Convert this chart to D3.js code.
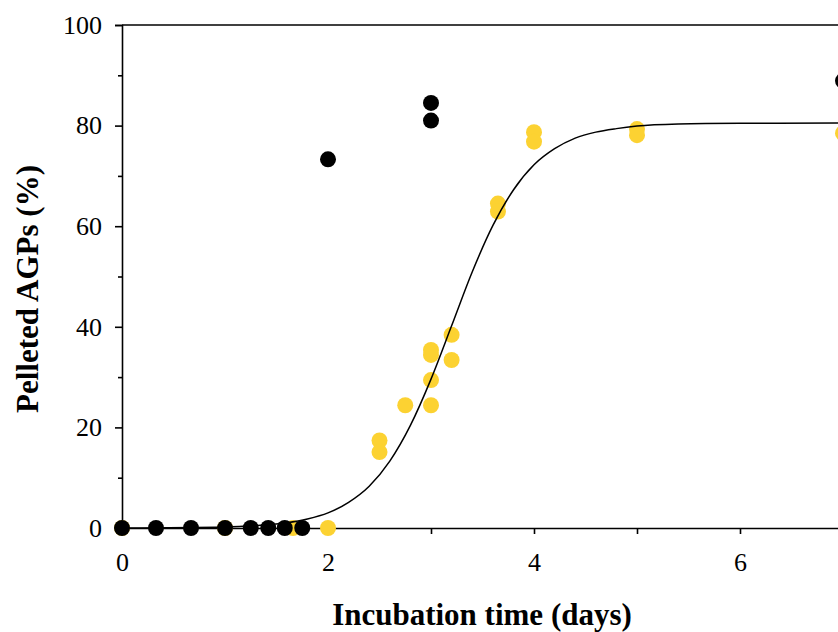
<!DOCTYPE html>
<html>
<head>
<meta charset="utf-8">
<script src="https://cdn.jsdelivr.net/npm/d3@7"></script>
<style>
  html, body { margin: 0; padding: 0; background: #fff; }
  svg { display: block; }
  text { font-family: "Liberation Serif", "Times New Roman", serif; }
</style>
</head>
<body>
<svg id="chart" width="838" height="632"></svg>
<script>
// ---- data ----
const blackX = [0, 0.33, 0.67, 1, 1.25, 1.42, 1.58, 1.75, 2, 3, 3, 7];
const blackY = [0, 0, 0, 0, 0, 0, 0, 0, 73.3, 84.5, 81.0, 88.9];

const yellowX = [0, 1, 1.66, 2, 2.5, 2.5, 2.75, 3, 3, 3, 3, 3.2, 3.2, 3.65, 3.65, 4, 4, 5, 5, 7];
const yellowY = [0, 0, 0, 0, 17.4, 15.1, 24.4, 24.4, 29.4, 35.4, 34.4, 38.4, 33.4, 64.5, 62.9, 78.7, 76.8, 79.3, 78.1, 78.5];

// fitted curve
const curveX = [0, 1.0, 1.3, 1.6, 1.8, 2.0, 2.2, 2.4, 2.6, 2.8, 3.0, 3.2, 3.4, 3.6, 3.8, 4.0, 4.2, 4.4, 4.6, 4.8, 5.0, 5.4, 6.0, 7.0, 8.0];
const curveY = [0, 0.2, 0.5, 1.05, 1.8, 3.0, 5.1, 8.3, 13.3, 20.4, 29.6, 40.2, 50.9, 60.1, 67.2, 72.2, 75.4, 77.5, 78.7, 79.4, 79.9, 80.3, 80.45, 80.5, 80.5];

const xTickValues = [0, 1, 2, 3, 4, 5, 6, 7];
const xTickLabels = ["0", "", "2", "", "4", "", "6", ""];
const yMajorTicks = [0, 20, 40, 60, 80, 100];
const yMinorTicks = [10, 30, 50, 70, 90];

const xTitle = "Incubation time (days)";
const yTitle = "Pelleted AGPs (%)";

// ---- drawing ----
const svg = d3.select("#chart");
const x = d3.scaleLinear().domain([0, 8]).range([122, 946]);
const y = d3.scaleLinear().domain([0, 100]).range([528, 25]);

const yellow = "#FCD232";
const axisW = 1.6;

// top frame line
svg.append("line")
  .attr("x1", x(0)).attr("x2", x(8))
  .attr("y1", y(100)).attr("y2", y(100))
  .attr("stroke", "#000").attr("stroke-width", axisW);

// x axis
const xAxis = d3.axisBottom(x)
  .tickValues(xTickValues)
  .tickSize(6)
  .tickPadding(19)
  .tickFormat((d, i) => xTickLabels[i]);
const gx = svg.append("g").attr("transform", `translate(0,${y(0)})`).call(xAxis);
gx.select(".domain").attr("stroke-width", axisW);
gx.selectAll(".tick line").attr("stroke-width", axisW);
gx.selectAll(".tick text").attr("font-size", 26).attr("font-family", "Liberation Serif").attr("fill", "#000");

// y axis major
const yAxis = d3.axisLeft(y)
  .tickValues(yMajorTicks)
  .tickSize(7)
  .tickPadding(13)
  .tickFormat(d3.format("d"));
const gy = svg.append("g").attr("transform", `translate(${x(0)},0)`).call(yAxis);
gy.select(".domain").attr("stroke-width", axisW);
gy.selectAll(".tick line").attr("stroke-width", axisW);
gy.selectAll(".tick text").attr("font-size", 26).attr("font-family", "Liberation Serif").attr("fill", "#000");

// y axis minor
const yMinor = d3.axisLeft(y).tickValues(yMinorTicks).tickSize(4).tickFormat("");
const gym = svg.append("g").attr("transform", `translate(${x(0)},0)`).call(yMinor);
gym.select(".domain").remove();
gym.selectAll(".tick line").attr("stroke-width", axisW);

// yellow points
svg.append("g").selectAll("circle")
  .data(yellowX.map((d, i) => [d, yellowY[i]]))
  .join("circle")
  .attr("cx", d => x(d[0])).attr("cy", d => y(d[1]))
  .attr("r", 8).attr("fill", yellow);

// curve
const line = d3.line().x(d => x(d[0])).y(d => y(d[1])).curve(d3.curveMonotoneX);
svg.append("path")
  .datum(curveX.map((d, i) => [d, curveY[i]]))
  .attr("d", line)
  .attr("fill", "none").attr("stroke", "#000").attr("stroke-width", 1.5);

// black points
svg.append("g").selectAll("circle")
  .data(blackX.map((d, i) => [d, blackY[i]]))
  .join("circle")
  .attr("cx", d => x(d[0])).attr("cy", d => y(d[1]))
  .attr("r", 8).attr("fill", "#000");

// axis titles
svg.append("text")
  .attr("x", 482).attr("y", 625)
  .attr("text-anchor", "middle")
  .attr("font-size", 31).attr("font-weight", "bold")
  .text(xTitle);

svg.append("text")
  .attr("transform", `translate(38,289) rotate(-90)`)
  .attr("text-anchor", "middle")
  .attr("font-size", 31).attr("font-weight", "bold")
  .text(yTitle);
</script>
</body>
</html>
